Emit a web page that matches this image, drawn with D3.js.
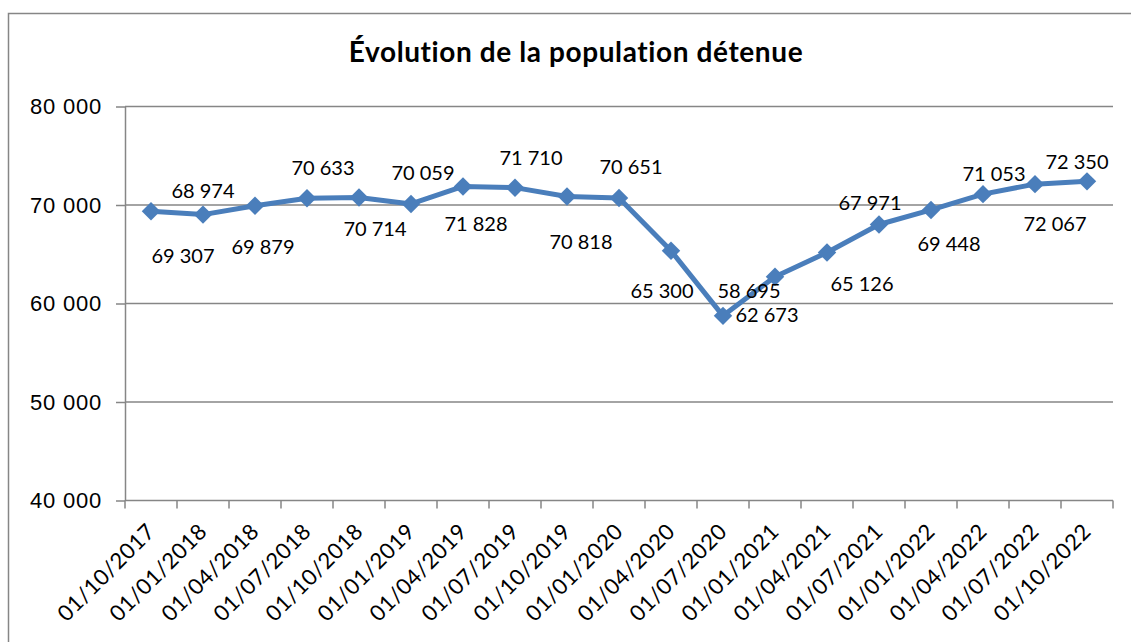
<!DOCTYPE html>
<html>
<head>
<meta charset="utf-8">
<script src="https://cdn.jsdelivr.net/npm/d3@7"></script>
<style>
	body { margin: 0; background: #fff; }
	svg { display: block; font-family: Lato, "Open Sans", sans-serif; }
	.axis .domain, .axis line { stroke: #868686; }
	.axis text { fill: #000; }
</style>
</head>
<body>
<script>
////////////////////////////////////////////////////////////
//// Data //////////////////////////////////////////////////
////////////////////////////////////////////////////////////
const dates = [
	"01/10/2017", "01/01/2018", "01/04/2018", "01/07/2018", "01/10/2018",
	"01/01/2019", "01/04/2019", "01/07/2019", "01/10/2019", "01/01/2020",
	"01/04/2020", "01/07/2020", "01/01/2021", "01/04/2021", "01/07/2021",
	"01/01/2022", "01/04/2022", "01/07/2022", "01/10/2022"
];
const detenus = [
	69307, 68974, 69879, 70633, 70714,
	70059, 71828, 71710, 70818, 70651,
	65300, 58695, 62673, 65126, 67971,
	69448, 71053, 72067, 72350
];
const yTicks = [40000, 50000, 60000, 70000, 80000];
const title = "Évolution de la population détenue";

// hand-placed data label nudges [dx, dy] from the point, like the original
const labelNudge = [
	[32, 45], [0, -24], [8, 41], [16, -30], [16, 32],
	[12, -31], [13, 38], [16, -30], [14, 46], [12, -31],
	[-9, 40], [26, -25], [-8, 38], [35, 31], [-9, -21],
	[18, 34], [11, -20], [20, 40], [-10, -19]
];

////////////////////////////////////////////////////////////
//// Setup /////////////////////////////////////////////////
////////////////////////////////////////////////////////////
const width = 1131;
const height = 642;
const margin = { top: 106, left: 125, right: 18, bottom: 142 };
const blue = "#4a7ebb";
const fmt = v => d3.format(",")(v).replace(/,/g, " ");

const data = dates.map((d, i) => ({ date: d, value: detenus[i], nudge: labelNudge[i] }));

const x = d3
	.scaleBand()
	.domain(dates)
	.range([margin.left, margin.left + 988]);

const y = d3
	.scaleLinear()
	.domain([40000, 80000])
	.range([height - margin.bottom, margin.top]);

const line = d3
	.line()
	.x(d => x(d.date) + x.bandwidth() / 2)
	.y(d => y(d.value));

////////////////////////////////////////////////////////////
//// Render ////////////////////////////////////////////////
////////////////////////////////////////////////////////////
const svg = d3
	.select("body")
	.append("svg")
	.attr("width", width)
	.attr("height", height);

// Chart border (top and left edges visible)
svg.append("path")
	.attr("d", `M8.5,${height} V13.5 H${width}`)
	.attr("fill", "none")
	.attr("stroke", "#868686")
	.attr("stroke-width", 1.5);

// Title
svg.append("text")
	.attr("x", 576)
	.attr("y", 62)
	.attr("text-anchor", "middle")
	.attr("font-size", 28)
	.attr("letter-spacing", 0.6)
	.attr("font-weight", "bold")
	.text(title);

// Gridlines
svg.append("g")
	.selectAll("line")
	.data(yTicks.slice(1))
	.join("line")
	.attr("x1", margin.left)
	.attr("x2", x.range()[1])
	.attr("y1", d => y(d) + 0.5)
	.attr("y2", d => y(d) + 0.5)
	.attr("stroke", "#868686")
	.attr("stroke-width", 1.5);

// Y axis
svg.append("g")
	.attr("class", "axis")
	.attr("transform", `translate(${margin.left},0.5)`)
	.call(d3.axisLeft(y).tickValues(yTicks).tickFormat(fmt).tickSize(9).tickSizeOuter(0).tickPadding(14))
	.call(g => g.selectAll("text").attr("font-size", 22).attr("letter-spacing", 0.8))
	.call(g => g.selectAll(".domain, line").attr("stroke-width", 1.5));

// X axis: ticks on category boundaries
const xAxis = svg.append("g")
	.attr("class", "axis")
	.attr("transform", `translate(0,${y(40000) + 0.5})`);

xAxis.append("line")
	.attr("x1", x.range()[0])
	.attr("x2", x.range()[1])
	.attr("stroke-width", 1.5);

xAxis.selectAll(".tick-b")
	.data(dates.map(d => x(d)).concat([x.range()[1]]))
	.join("line")
	.attr("class", "tick-b")
	.attr("x1", d => d)
	.attr("x2", d => d)
	.attr("y1", 0)
	.attr("y2", 8)
	.attr("stroke-width", 1.5);

xAxis.selectAll("text")
	.data(dates)
	.join("text")
	.attr("transform", d => `translate(${x(d) + x.bandwidth() / 2},${27}) rotate(-45)`)
	.attr("text-anchor", "end")
	.attr("dy", "0.35em")
	.attr("font-size", 22)
	.attr("letter-spacing", 0.5)
	.text(d => d);

// Series line
svg.append("path")
	.datum(data)
	.attr("fill", "none")
	.attr("stroke", blue)
	.attr("stroke-width", 5)
	.attr("stroke-linejoin", "round")
	.attr("d", line);

// Diamond markers
svg.append("g")
	.selectAll("path")
	.data(data)
	.join("path")
	.attr("transform", d => `translate(${x(d.date) + x.bandwidth() / 2},${y(d.value)}) rotate(45)`)
	.attr("d", d3.symbol(d3.symbolSquare, 170))
	.attr("fill", blue);

// Data labels
svg.append("g")
	.selectAll("text")
	.data(data)
	.join("text")
	.attr("x", d => x(d.date) + x.bandwidth() / 2 + d.nudge[0])
	.attr("y", d => y(d.value) + d.nudge[1])
	.attr("dy", "0.35em")
	.attr("text-anchor", "middle")
	.attr("font-size", 20)
	.attr("fill", "#000")
	.text(d => fmt(d.value));
</script>
</body>
</html>
